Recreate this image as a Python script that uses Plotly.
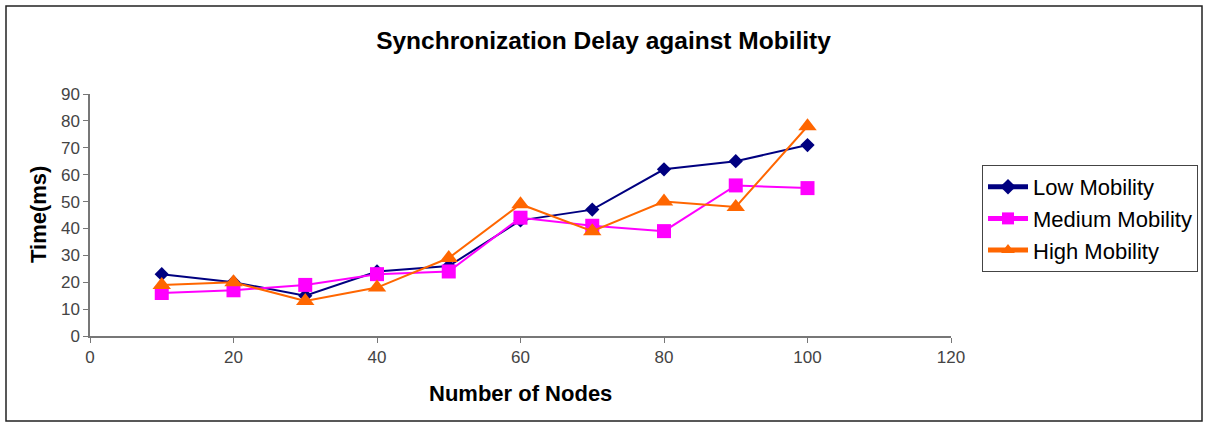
import plotly.graph_objects as go

# Number of nodes in the network
nodes = [10, 20, 30, 40, 50, 60, 70, 80, 90, 100]

# Synchronization delay (ms) per mobility level
low_mobility = [23, 20, 15, 24, 26, 43, 47, 62, 65, 71]
medium_mobility = [16, 17, 19, 23, 24, 44, 41, 39, 56, 55]
high_mobility = [19, 20, 13, 18, 29, 49, 39, 50, 48, 78]

x_ticks = [0, 20, 40, 60, 80, 100, 120]
y_ticks = [0, 10, 20, 30, 40, 50, 60, 70, 80, 90]

FONT = "Liberation Sans, Arial, Helvetica, sans-serif"

fig = go.Figure()

series = [
    ("Low Mobility", low_mobility, "#000080", "diamond", 11),
    ("Medium Mobility", medium_mobility, "#FF00FF", "square", 14),
    ("High Mobility", high_mobility, "#FF6600", "triangle-up", 16),
]
for name, values, color, symbol, size in series:
    fig.add_trace(go.Scatter(
        x=nodes, y=values, name=name, mode="lines+markers",
        line=dict(color=color, width=2),
        marker=dict(symbol=symbol, size=size, color=color),
    ))

W, H = 1207, 423
L, R, T, B = 90, 256, 94, 87
pw, ph = W - L - R, H - T - B

def px_x(p):
    return (p - L) / pw

def px_y(p):
    return (H - B - p) / ph

fig.update_layout(
    width=W, height=H,
    margin=dict(l=L, r=R, t=T, b=B, autoexpand=False),
    paper_bgcolor="white", plot_bgcolor="white",
    font=dict(family=FONT, color="#000"),
    title=dict(
        text="<b>Synchronization Delay against Mobility</b>",
        font=dict(size=24.5, family=FONT, color="#000"),
        x=0.5, xref="container", xanchor="center",
        y=1 - 40 / H, yref="container", yanchor="middle",
    ),
    xaxis=dict(
        range=[0, 120], tickvals=x_ticks, showgrid=False, zeroline=False,
        showline=True, linecolor="#777", linewidth=1.5,
        ticks="outside", ticklen=5, tickcolor="#777",
        tickfont=dict(size=17, color="#444", family=FONT),
    ),
    yaxis=dict(
        range=[0, 90], tickvals=y_ticks, showgrid=False, zeroline=False,
        showline=True, linecolor="#777", linewidth=1.5,
        ticks="outside", ticklen=5, tickcolor="#777",
        tickfont=dict(size=17, color="#444", family=FONT),
    ),
    showlegend=True,
    legend=dict(
        x=px_x(982), y=px_y(165), xanchor="left", yanchor="top",
        bordercolor="#444", borderwidth=1, bgcolor="white",
        font=dict(size=22, family=FONT, color="#000"),
        itemsizing="constant", itemwidth=40,
    ),
    annotations=[
        dict(text="<b>Number of Nodes</b>", xref="paper", yref="paper",
             x=0.5, y=px_y(393), xanchor="center", yanchor="middle",
             showarrow=False, font=dict(size=22, family=FONT, color="#000")),
        dict(text="<b>Time(ms)</b>", xref="paper", yref="paper",
             x=px_x(38), y=0.5, xanchor="center", yanchor="middle",
             textangle=-90, showarrow=False,
             font=dict(size=22, family=FONT, color="#000")),
    ],
    shapes=[
        dict(type="rect", xref="paper", yref="paper",
             x0=px_x(6), x1=px_x(1202), y0=px_y(421), y1=px_y(6),
             line=dict(color="#222", width=1.5), layer="below"),
    ],
)

fig.write_html("out.html")
